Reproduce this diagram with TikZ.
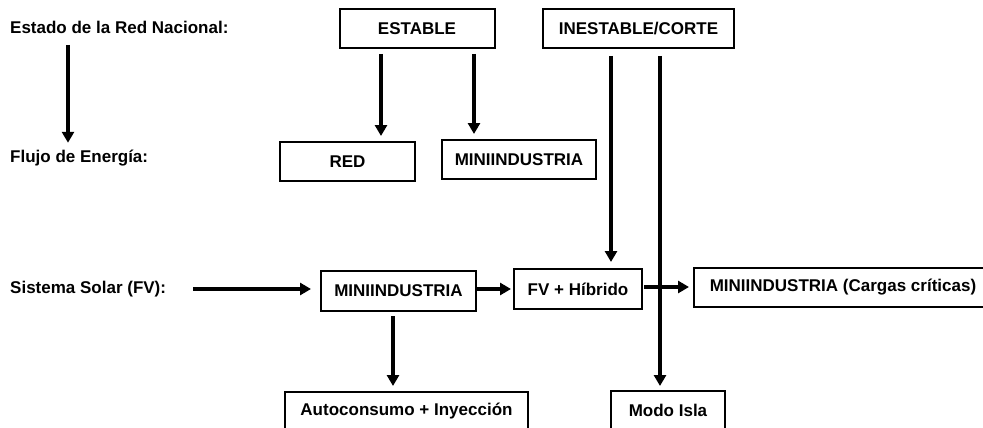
\documentclass[tikz,border=0pt]{standalone}
\usepackage{fontspec}
\setmainfont{Liberation Sans}
\usetikzlibrary{arrows.meta,calc}
\begin{document}
\begin{tikzpicture}[x=1pt,y=-1pt,
  box/.style={draw,line width=2pt,inner sep=0pt,font=\fontsize{17}{20}\selectfont\bfseries},
  lbl/.style={anchor=west,inner sep=0pt,font=\fontsize{17}{20}\selectfont\bfseries},
  arr/.style={line width=3.2pt,-{Triangle[length=11pt,width=12pt]}},
  ln/.style={line width=3.2pt}]
\useasboundingbox (0,0) rectangle (983,428);
\clip (0,0) rectangle (983,428);
% labels
\node[lbl] (estado) at (10,27) {Estado de la Red Nacional:};
\node[lbl] (flujo) at (10,158) {Flujo de Energía:};
\node[lbl] (sistema) at (10,289) {Sistema Solar (FV):};
% boxes
\node[box,minimum width=155,minimum height=39] (estable) at (417,28.5) {ESTABLE};
\node[box,minimum width=191,minimum height=39] (inestable) at (638.5,28.5) {INESTABLE/CORTE};
\node[box,minimum width=135,minimum height=39] (red) at (347.5,161.5) {RED};
\node[box,minimum width=154,minimum height=39] (minitop) at (519,159.5) {MINIINDUSTRIA};
\node[box,minimum width=155,minimum height=40] (minimid) at (398.5,291) {MINIINDUSTRIA};
\node[box,minimum width=128,minimum height=40] (fv) at (578,289) {FV + Híbrido};
\node[box,minimum width=298,minimum height=39] (cargas) at (843,287.5) {MINIINDUSTRIA (Cargas críticas)};
\node[box,minimum width=243,minimum height=39] (auto) at (406.5,411.5) {Autoconsumo + Inyección};
\node[box,minimum width=114,minimum height=39] (isla) at (668,410.5) {Modo Isla};
% connectors
\coordinate (ltop) at (68,45);
\draw[arr] (ltop) -- ([yshift=7]ltop |- flujo.north);
\draw[arr] ([xshift=-36,yshift=-5]estable.south) -- ([xshift=-36,yshift=5]estable.south |- red.north);
\draw[arr] ([xshift=57,yshift=-5]estable.south) -- ([xshift=57,yshift=5]estable.south |- minitop.north);
\draw[arr] ([xshift=-27.5,yshift=-7]inestable.south) -- ([xshift=-27.5,yshift=6]inestable.south |- fv.north);
\draw[arr] ([xshift=21.5,yshift=-7]inestable.south) -- ([xshift=21.5,yshift=4]inestable.south |- isla.north);
\draw[arr] ([xshift=183]sistema.west) -- ([xshift=-9]sistema.west -| minimid.west);
\draw[arr] ([yshift=2]minimid.east) -- ([xshift=-2,yshift=2]minimid.east -| fv.west);
\draw[arr] ([xshift=1,yshift=2]fv.east) -- ([xshift=-4,yshift=2]fv.east -| cargas.west);
\draw[arr] ([xshift=-5.5,yshift=-4]minimid.south) -- ([xshift=-5.5,yshift=5]minimid.south |- auto.north);
\end{tikzpicture}
\end{document}
